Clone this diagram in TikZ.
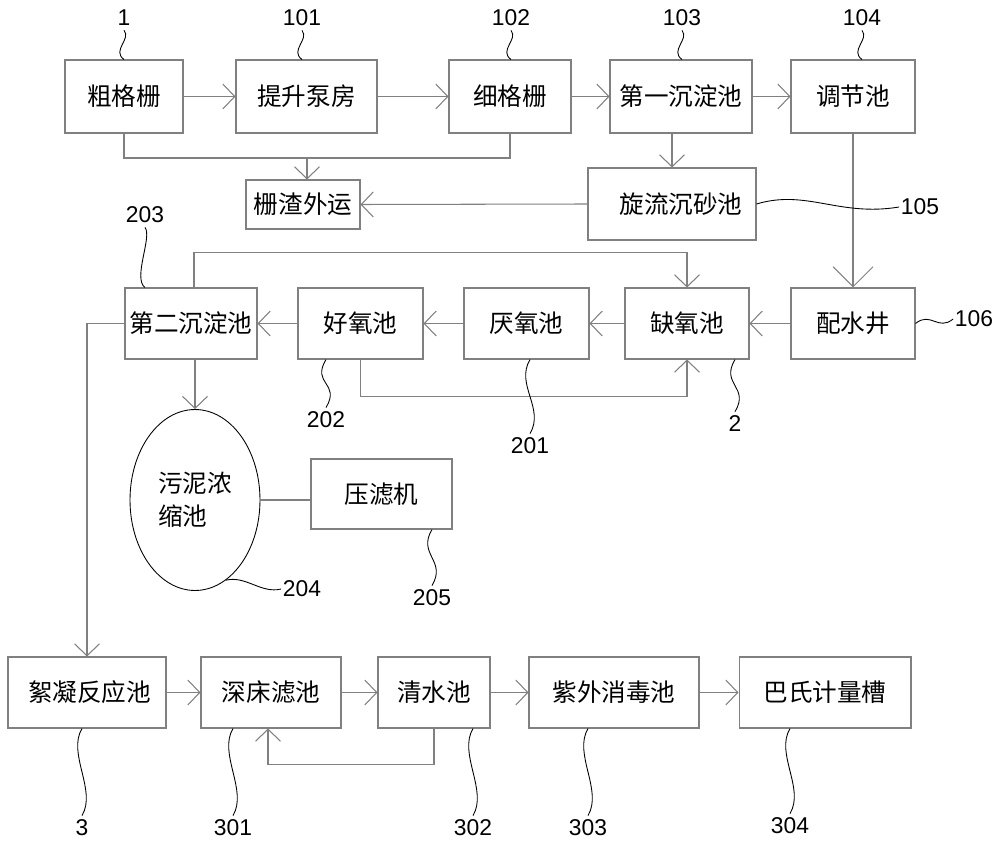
\documentclass[tikz,border=0pt]{standalone}
\usepackage{fontspec}
\setmainfont{Liberation Sans}
\newfontfamily\cjk{Noto Sans CJK SC}
\usetikzlibrary{arrows.meta,shapes.geometric}

\tikzset{
  box/.style={draw=gray, line width=0.6pt, minimum height=14.2mm, inner sep=0pt,
    font=\cjk\fontsize{14pt}{17pt}\selectfont},
  num/.style={inner sep=0.8mm, font=\fontsize{13pt}{15pt}\selectfont},
  line/.style={draw=gray, line width=0.6pt},
  flow/.style={line, -{Straight Barb[length=2.4mm, width=5mm]}},
  lead/.style={draw=black, line width=0.5pt},
}

\begin{document}
\begin{tikzpicture}[x=0.02cm, y=-0.02cm]
			\useasboundingbox (0,0) rectangle (1000,844);
			% pretreatment line
			\node[box, minimum width=23.6mm, minimum height=14.6mm] (cg) at (124,96.5) {粗格栅};
			\node[box, minimum width=28.2mm, minimum height=14.6mm] (tb) at (306.5,96.5) {提升泵房};
			\node[box, minimum width=24.4mm, minimum height=14.6mm] (xg) at (510,96.5) {细格栅};
			\node[box, minimum width=28.4mm, minimum height=14.6mm] (cd1) at (681,96.5) {第一沉淀池};
			\node[box, minimum width=24.8mm, minimum height=14.6mm] (tj) at (853,96.5) {调节池};
			\node[box, minimum width=22.8mm, minimum height=9.8mm] (zz) at (303,204.5) {栅渣外运};
			\node[box, minimum width=33.6mm, minimum height=14.4mm] (xl) at (672,204) {\hspace{3.6mm}旋流沉砂池};
			% biological line
			\node[box, minimum width=26.4mm] (cd2) at (191,323.5) {第二沉淀池};
			\node[box, minimum width=25mm] (hy) at (360.5,323.5) {好氧池};
			\node[box, minimum width=25mm] (yy) at (526.5,323.5) {厌氧池};
			\node[box, minimum width=24.8mm] (qy) at (687,323.5) {缺氧池\hspace{6.8mm}};
			\node[box, minimum width=24.8mm] (ps) at (853,323.5) {配水井};
			\node[ellipse, draw, line width=0.5pt, minimum width=26mm, minimum height=36.2mm,
				inner sep=0pt, align=left, font=\cjk\fontsize{14pt}{19pt}\selectfont] (wn) at (195,500) {污泥浓\\缩池};
			\node[box, minimum width=28.2mm, minimum height=14mm] (ylj) at (381.5,494) {压滤机};
			% advanced treatment line
			\node[box, minimum width=31.6mm] (xn) at (87,692.5) {\hspace{1mm}絮凝反应池};
			\node[box, minimum width=28mm] (sc) at (271,692.5) {深床滤池\hspace{4.4mm}};
			\node[box, minimum width=22.4mm] (qs) at (434,692.5) {清水池\hspace{2.4mm}};
			\node[box, minimum width=34mm] (zw) at (614,692.5) {紫外消毒池};
			\node[box, minimum width=34.4mm] (bs) at (825,692.5) {巴氏计量槽};
			% reference numbers
			\node[num] (l1) at (124,18) {1};
			\node[num] (l101) at (302,18) {101};
			\node[num] (l102) at (511,18) {102};
			\node[num] (l103) at (682,18) {103};
			\node[num] (l104) at (862,18) {104};
			\node[num, inner sep=0.3mm] (l105) at (920,207) {105};
			\node[num, inner sep=0.3mm] (l106) at (974,319) {106};
			\node[num] (l203) at (145,215) {203};
			\node[num] (l202) at (326,420) {202};
			\node[num] (l201) at (530,446) {201};
			\node[num] (l2) at (735,424) {2};
			\node[num, inner sep=0.3mm] (l204) at (302,589) {204};
			\node[num] (l205) at (432,598) {205};
			\node[num] (l3) at (82,828) {3};
			\node[num] (l301) at (233,828) {301};
			\node[num] (l302) at (473,828) {302};
			\node[num] (l303) at (588,828) {303};
			\node[num] (l304) at (790,826) {304};
			\coordinate (jn) at (307,158);
			% flows
			\draw[flow] (cg) -- (tb);
			\draw[flow] (tb) -- (xg);
			\draw[flow] (xg) -- (cd1);
			\draw[flow] (cd1) -- (tj);
			\draw[line] (cg.south) |- (jn) -| (xg.south);
			\draw[flow] (jn) -- (jn |- zz.north);
			\draw[flow] (xl.north |- cd1.south) -- (xl.north);
			\draw[flow] (xl.west) -- (zz.east);
			\draw[line, -{Straight Barb[length=4mm, width=8mm]}] (tj.south) -- (ps.north);
			\draw[flow] (ps) -- (qy);
			\draw[flow] (qy) -- (yy);
			\draw[flow] (yy) -- (hy);
			\draw[flow] (hy) -- (cd2);
			\draw[flow] ([xshift=0.6mm]cd2.north) -- ++(0,-35) -| (qy.north);
			\draw[flow] (hy.south) -- ++(0,37) -| (qy.south);
			\draw[flow] (wn.north |- cd2.south) -- (wn.north);
			\draw[line] (wn.east) -- (wn.east -| ylj.west);
			\draw[flow] (cd2.west) -| (xn.north);
			\draw[flow] (xn) -- (sc);
			\draw[flow] (sc) -- (qs);
			\draw[flow] (qs) -- (zw);
			\draw[flow] (zw) -- (bs);
			\draw[flow] (qs.south) -- ++(0,36) -| ([xshift=-0.6mm]sc.south);
			% leaders
			\foreach \lab/\blk in {l1/cg, l101/tb, l102/xg, l103/cd1, l104/tj, l203/cd2}
				\draw[lead] (\lab |- \blk.north) .. controls +(-2.5mm,1.8mm) and +(1.5mm,-1.8mm) .. (\lab.south);
			\foreach \lab/\blk in {l202/hy, l201/yy, l2/qy, l205/ylj, l3/xn, l301/sc, l302/qs, l303/zw, l304/bs}
				\draw[lead] (\lab |- \blk.south) .. controls +(-3mm,-5mm) and +(3mm,5mm) .. (\lab.north);
			\draw[lead] (xl.east) .. controls +(10mm,3mm) and +(-12mm,-2mm) .. (l105.west);
			\draw[lead] (ps.east) .. controls +(3mm,2.5mm) and +(-3mm,-2.5mm) .. (l106.west);
			\draw[lead] (wn.-69) .. controls +(4mm,1mm) and +(-4mm,-1mm) .. (l204.west);
		\end{tikzpicture}
\end{document}
